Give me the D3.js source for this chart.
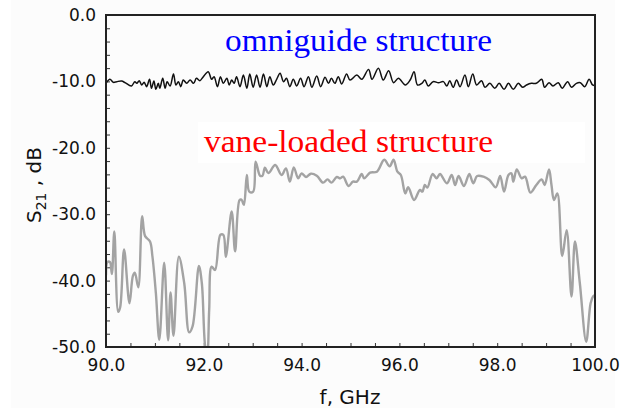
<!DOCTYPE html>
<html>
<head>
<meta charset="utf-8">
<script src="https://cdn.jsdelivr.net/npm/d3@7/dist/d3.min.js"></script>
<style>
  html, body { margin: 0; padding: 0; background: #ffffff; }
  svg { display: block; }
</style>
</head>
<body>
<svg id="chart" width="626" height="411"></svg>
<script>
// ---- data ----
const xTickLabels = [90, 92, 94, 96, 98, 100];
const yTickLabels = [0, -10, -20, -30, -40, -50];

const omniF = [90.00,90.08,90.15,90.22,90.32,90.39,90.52,90.59,90.63,90.68,90.73,90.78,90.83,90.89,90.93,90.98,91.02,91.07,91.10,91.16,91.21,91.25,91.31,91.38,91.43,91.48,91.53,91.58,91.65,91.72,91.79,91.85,91.92,91.99,92.09,92.16,92.21,92.28,92.34,92.40,92.47,92.52,92.57,92.62,92.67,92.74,92.81,92.88,92.94,93.01,93.08,93.15,93.22,93.29,93.35,93.42,93.49,93.56,93.63,93.69,93.76,93.83,93.90,93.98,94.05,94.14,94.21,94.31,94.39,94.48,94.55,94.61,94.68,94.75,94.82,94.92,94.99,95.13,95.23,95.37,95.44,95.57,95.67,95.78,95.88,95.98,96.12,96.22,96.30,96.37,96.46,96.52,96.59,96.69,96.80,96.90,96.97,97.03,97.10,97.17,97.24,97.34,97.41,97.50,97.58,97.68,97.75,97.85,97.95,98.04,98.14,98.23,98.33,98.43,98.52,98.60,98.70,98.80,98.91,98.97,99.06,99.14,99.25,99.33,99.44,99.52,99.62,99.70,99.79,99.88,99.95,100.0];
const omniDb = [-10.29,-9.69,-10.14,-10.04,-9.94,-10.19,-10.69,-10.04,-10.29,-9.89,-10.54,-10.14,-10.79,-9.69,-11.04,-9.94,-11.19,-10.29,-11.04,-9.54,-11.04,-10.04,-10.69,-8.89,-10.54,-10.04,-10.79,-9.79,-10.29,-9.79,-10.29,-9.54,-9.89,-9.29,-8.53,-9.69,-9.29,-10.79,-9.29,-10.29,-9.54,-10.54,-9.79,-10.29,-9.29,-10.79,-9.04,-11.04,-8.89,-10.89,-9.04,-10.89,-8.89,-10.79,-9.29,-10.54,-9.69,-8.79,-10.04,-9.54,-10.79,-9.69,-10.69,-9.54,-10.79,-9.29,-10.89,-9.19,-10.79,-9.39,-10.29,-9.54,-10.29,-9.29,-10.39,-8.89,-9.79,-9.04,-9.69,-8.19,-9.69,-8.03,-9.79,-8.39,-10.19,-9.54,-10.54,-9.79,-8.53,-10.54,-10.29,-9.79,-10.69,-10.04,-10.19,-10.04,-10.69,-9.89,-10.89,-9.79,-10.79,-9.04,-10.79,-8.89,-10.54,-9.89,-10.89,-10.29,-11.04,-10.29,-11.19,-10.29,-11.19,-10.29,-10.89,-10.54,-10.29,-10.29,-9.69,-10.89,-10.19,-10.69,-10.19,-11.04,-10.04,-10.89,-10.29,-10.19,-10.79,-9.69,-10.54,-10.6];

const vaneF = [90.00,90.03,90.08,90.12,90.17,90.25,90.29,90.37,90.48,90.55,90.59,90.66,90.74,90.80,90.90,90.95,91.02,91.09,91.19,91.27,91.32,91.38,91.49,91.60,91.70,91.77,91.90,91.96,92.03,92.07,92.11,92.16,92.23,92.34,92.40,92.45,92.57,92.64,92.73,92.77,92.82,92.88,92.93,93.01,93.06,93.15,93.20,93.25,93.32,93.46,93.59,93.68,93.76,93.84,93.93,94.00,94.09,94.19,94.31,94.44,94.53,94.61,94.72,94.79,94.85,94.96,95.05,95.13,95.23,95.28,95.40,95.54,95.69,95.80,95.88,95.96,96.03,96.12,96.18,96.30,96.42,96.47,96.52,96.57,96.68,96.76,96.83,96.97,97.07,97.14,97.21,97.32,97.43,97.51,97.59,97.72,97.84,97.97,98.06,98.14,98.23,98.29,98.33,98.40,98.50,98.57,98.68,98.80,98.91,98.97,99.06,99.11,99.16,99.23,99.33,99.42,99.52,99.59,99.69,99.82,99.91,99.96,100.0];
const vaneDb = [-39.2,-37.2,-37.2,-39.0,-32.6,-44.7,-44.0,-35.3,-43.4,-39.3,-38.8,-41.0,-30.3,-33.3,-34.1,-36.4,-41.9,-48.9,-37.3,-49.0,-41.8,-48.3,-36.4,-40.4,-47.8,-46.9,-37.8,-40.4,-50.0,-51.0,-44.4,-37.9,-38.4,-33.1,-33.1,-36.4,-29.6,-35.6,-27.9,-27.8,-28.6,-24.1,-26.6,-26.6,-22.1,-24.2,-24.2,-23.0,-23.8,-22.6,-24.1,-23.1,-25.1,-22.95,-24.6,-23.85,-24.4,-23.9,-24.2,-25.25,-24.75,-25.25,-24.4,-24.6,-24.35,-25.75,-25.1,-25.1,-23.95,-24.6,-23.75,-23.6,-21.8,-22.8,-21.8,-23.6,-24.1,-26.86,-25.95,-27.86,-26.35,-26.6,-25.6,-26.0,-23.95,-24.6,-23.95,-25.35,-24.1,-25.6,-24.25,-25.75,-23.95,-25.35,-24.25,-24.35,-24.85,-25.95,-24.25,-26.6,-24.1,-23.85,-25.1,-23.25,-24.6,-24.35,-26.75,-25.6,-24.75,-25.6,-23.25,-25.6,-27.86,-26.86,-36.3,-32.4,-42.4,-34.1,-40.4,-49.2,-43.4,-42.4,-42.2];

const labelOmni = "omniguide structure";
const labelVane = "vane-loaded structure";

// ---- chart ----
const svg = d3.select("#chart");
const pL = 106, pR = 595, pT = 15, pB = 347;

const x = d3.scaleLinear().domain([90, 100]).range([pL, pR]);
const y = d3.scaleLinear().domain([-50, 0]).range([pB, pT]);

// light panel background
svg.append("rect").attr("x", 11).attr("y", 0).attr("width", 604).attr("height", 408).attr("fill", "#fcfcfc");
// white text box behind the red label
svg.append("rect").attr("x", 198).attr("y", 122).attr("width", 387).attr("height", 41).attr("fill", "#ffffff");

svg.append("defs").append("clipPath").attr("id", "plotclip")
  .append("rect").attr("x", pL).attr("y", pT).attr("width", pR - pL).attr("height", pB - pT);

const fmt = d => d.toFixed(1);
const yMinor = d3.range(-50, 0.001, 2);
const xMinor = d3.range(90, 100.001, 0.5);

// Y axis (inside ticks)
const yAxis = svg.append("g").attr("transform", `translate(${pL},0)`)
  .call(d3.axisLeft(y).tickValues(yMinor).tickSize(-4).tickFormat(""));
yAxis.select(".domain").remove();
yAxis.selectAll(".tick line").attr("stroke", "#333").attr("stroke-width", 1);

const yLab = svg.append("g").attr("transform", `translate(${pL},0)`)
  .call(d3.axisLeft(y).tickValues(yTickLabels).tickSize(0).tickPadding(10).tickFormat(fmt));
yLab.select(".domain").remove();
yLab.selectAll("text").attr("font-family", "DejaVu Sans").attr("font-size", 17).attr("fill", "#111");

// X axis (inside ticks)
const xAxis = svg.append("g").attr("transform", `translate(0,${pB})`)
  .call(d3.axisBottom(x).tickValues(xMinor).tickSize(-4).tickFormat(""));
xAxis.select(".domain").remove();
xAxis.selectAll(".tick line").attr("stroke", "#333").attr("stroke-width", 1);

const xLab = svg.append("g").attr("transform", `translate(0,${pB})`)
  .call(d3.axisBottom(x).tickValues(xTickLabels).tickSize(0).tickPadding(12).tickFormat(fmt));
xLab.select(".domain").remove();
xLab.selectAll("text").attr("font-family", "DejaVu Sans").attr("font-size", 17).attr("fill", "#111");

// lines
const vaneData = vaneF.map((f, i) => [f, vaneDb[i]]);
const omniData = omniF.map((f, i) => [f, omniDb[i]]);

const plot = svg.append("g").attr("clip-path", "url(#plotclip)");
plot.append("path").datum(vaneData)
  .attr("fill", "none").attr("stroke", "#a3a3a3").attr("stroke-width", 2.4)
  .attr("d", d3.line().x(d => x(d[0])).y(d => y(d[1])).curve(d3.curveCatmullRom.alpha(0.5)));
plot.append("path").datum(omniData)
  .attr("fill", "none").attr("stroke", "#111").attr("stroke-width", 1.5)
  .attr("d", d3.line().x(d => x(d[0])).y(d => y(d[1])).curve(d3.curveCatmullRom.alpha(0.5)));

// frame
svg.append("rect").attr("x", pL).attr("y", pT).attr("width", pR - pL).attr("height", pB - pT)
  .attr("fill", "none").attr("stroke", "#222").attr("stroke-width", 2);

// annotations
svg.append("text").attr("x", 225).attr("y", 51)
  .attr("font-family", "Liberation Serif, Times New Roman, serif").attr("font-size", 31)
  .attr("fill", "#0000ff").attr("textLength", 267).attr("lengthAdjust", "spacingAndGlyphs")
  .text(labelOmni);
svg.append("text").attr("x", 204).attr("y", 152)
  .attr("font-family", "Liberation Serif, Times New Roman, serif").attr("font-size", 31)
  .attr("fill", "#ff0000").attr("textLength", 289).attr("lengthAdjust", "spacingAndGlyphs")
  .text(labelVane);

// axis titles
svg.append("text").attr("x", 350).attr("y", 404).attr("text-anchor", "middle")
  .attr("font-family", "DejaVu Sans").attr("font-size", 20).attr("fill", "#111")
  .text("f, GHz");

const yt = svg.append("text").attr("transform", "translate(41,185) rotate(-90)").attr("text-anchor", "middle")
  .attr("font-family", "DejaVu Sans").attr("font-size", 20).attr("fill", "#111");
yt.append("tspan").text("S");
yt.append("tspan").attr("font-size", 14).attr("dy", 5).text("21");
yt.append("tspan").attr("dy", -5).text(" , dB");
</script>
</body>
</html>
